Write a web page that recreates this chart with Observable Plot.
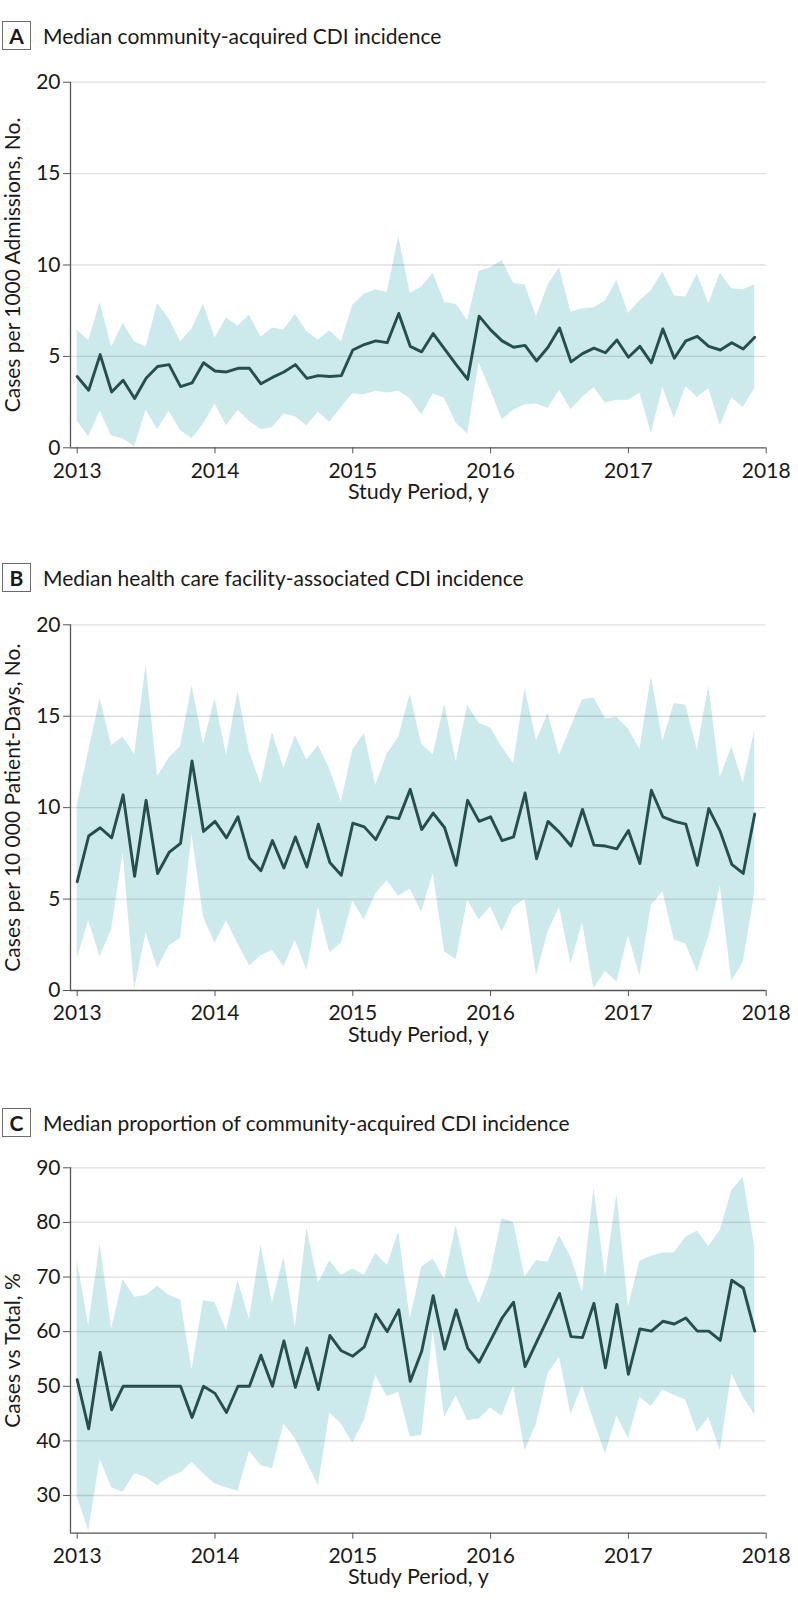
<!DOCTYPE html>
<html>
<head>
<meta charset="utf-8">
<script src="https://cdn.jsdelivr.net/npm/d3@7"></script>
<script src="https://cdn.jsdelivr.net/npm/@observablehq/plot@0.6"></script>
<style>
  html, body { margin: 0; padding: 0; background: #fff; }
  body { width: 798px; height: 1617px; position: relative; font-family: Lato, "Open Sans", sans-serif; color: #1a1a1a; }
  .hdr { position: absolute; left: 0; height: 30px; }
  .box { position: absolute; left: 2px; top: 0; width: 27px; height: 27px; border: 1.5px solid #6b6b6b; font-weight: 700; font-size: 21px; display: flex; align-items: center; justify-content: center; }
  .ttl { position: absolute; left: 43px; top: 0; height: 30px; line-height: 30px; font-size: 21px; white-space: nowrap; }
  .panel { position: absolute; left: 0; }
</style>
</head>
<body>
<script>
// ---------- data ----------
const years = [2013, 2014, 2015, 2016, 2017, 2018];
const nMonths = 60;

const panelTitles = [
  "Median community-acquired CDI incidence",
  "Median health care facility-associated CDI incidence",
  "Median proportion of community-acquired CDI incidence"
];
const panelLetters = ["A", "B", "C"];
const yLabels = [
  "Cases per 1000 Admissions, No.",
  "Cases per 10 000 Patient-Days, No.",
  "Cases vs Total, %"
];
const xLabel = "Study Period, y";

const aMedian = [3.9,3.15,5.1,3.05,3.7,2.7,3.8,4.45,4.55,3.35,3.55,4.65,4.2,4.15,4.35,4.35,3.5,3.85,4.15,4.55,
  3.8,3.95,3.9,3.95,5.35,5.65,5.85,5.75,7.35,5.55,5.25,6.25,5.4,4.55,3.75,7.2,6.45,5.85,5.5,5.6,
  4.75,5.5,6.55,4.7,5.15,5.45,5.2,5.9,4.95,5.55,4.65,6.5,4.9,5.85,6.1,5.55,5.35,5.75,5.4,6.05];
const aUpper = [6.45,5.85,7.95,5.5,6.8,5.8,5.5,7.9,7.05,5.8,6.5,7.85,6.0,7.1,6.65,7.25,6.05,6.55,6.45,7.3,
  6.35,5.9,6.4,5.8,7.8,8.4,8.65,8.5,11.55,8.45,8.8,9.55,7.95,7.85,6.95,9.65,9.85,10.25,9.0,8.9,
  7.15,8.9,9.85,7.4,7.6,7.65,8.05,9.15,7.35,8.05,8.6,9.6,8.3,8.25,9.5,7.9,9.55,8.7,8.65,8.9];
const aLower = [1.45,0.6,2.0,0.65,0.5,0.05,2.05,1.0,2.0,0.95,0.5,1.3,2.4,1.2,2.05,1.45,1.0,1.1,1.85,1.7,
  1.2,1.95,1.4,2.2,2.95,2.9,3.1,3.0,3.1,2.7,1.8,2.95,2.7,1.35,0.75,4.65,3.15,1.55,2.05,2.35,
  2.4,2.15,3.15,2.1,2.75,3.3,2.45,2.6,2.6,3.0,0.8,3.3,1.6,3.35,2.75,3.25,1.2,2.75,2.2,3.25];

const bMedian = [5.95,8.45,8.9,8.35,10.7,6.25,10.4,6.4,7.55,8.05,12.55,8.7,9.25,8.35,9.5,7.25,6.55,8.2,6.7,8.4,
  6.75,9.1,7.0,6.3,9.15,8.95,8.25,9.5,9.4,11.0,8.8,9.7,8.9,6.85,10.4,9.25,9.5,8.2,8.4,10.8,
  7.2,9.25,8.65,7.9,9.9,7.95,7.9,7.75,8.75,6.95,10.95,9.5,9.25,9.1,6.85,9.95,8.7,6.9,6.4,9.65];
const bUpper = [10.1,13.1,15.95,13.4,13.85,12.9,17.8,11.7,12.7,13.35,16.65,13.45,15.95,12.85,16.35,13.05,11.3,14.1,12.15,13.95,
  12.6,13.4,12.1,10.3,13.15,14.05,11.2,12.95,13.85,16.2,13.45,12.9,15.65,12.5,15.6,14.6,14.35,13.3,12.4,16.5,
  13.65,15.15,12.85,14.4,15.9,16.0,14.85,14.95,14.3,13.2,17.15,13.65,15.7,15.6,13.15,16.65,11.65,13.3,11.35,14.2];
const bLower = [1.75,3.8,1.85,3.35,7.55,0.05,3.15,1.2,2.45,2.85,8.55,4.0,2.6,3.8,2.55,1.35,1.9,2.2,1.3,2.75,
  1.1,4.55,2.05,2.6,4.9,3.85,5.3,6.0,5.15,5.55,4.3,6.4,2.1,1.7,4.95,3.85,4.6,3.2,4.55,5.0,
  0.8,3.2,4.55,1.45,3.7,0.1,1.05,0.45,3.0,0.8,4.65,5.4,2.75,2.55,1.0,2.95,5.7,0.5,1.55,5.3];

const cMedian = [51.2,42.2,56.2,45.7,50,50,50,50,50,50,44.3,50,48.7,45.2,50,50,55.7,50,58.3,49.8,
  57.0,49.4,59.3,56.5,55.5,57.2,63.2,60.0,64.0,50.9,56.4,66.6,56.8,64.0,57.0,54.4,58.4,62.5,65.4,53.6,
  58.1,62.5,67.0,59.1,58.9,65.2,53.4,65.0,52.2,60.5,60.1,61.9,61.4,62.5,60.1,60.1,58.4,69.4,68.0,60.1];
const cUpper = [73.0,61.1,76.1,60.5,69.5,66.3,66.6,68.3,66.6,65.8,53.0,65.7,65.3,60.1,69.4,62.2,75.8,65.2,73.6,60.8,
  79.0,68.8,73.0,70.3,71.5,70.3,74.3,72.1,78.2,62.3,71.8,73.3,69.5,79.4,70.0,65.1,70.7,80.7,80.0,70.0,
  73.0,72.7,77.6,73.6,67.2,86.2,70.0,85.2,64.5,72.9,73.8,74.4,74.4,77.3,78.4,75.6,78.5,85.8,88.3,75.5];
const cLower = [29.8,23.5,36.7,31.4,30.6,34.0,33.3,31.8,33.3,34.1,36.1,34.0,32.1,31.4,30.8,38.1,35.5,34.9,43.1,40.4,
  36.1,31.8,45.1,43.1,39.6,43.7,52.0,48.1,48.9,40.7,41.0,60.2,44.3,48.3,43.7,44.0,46.0,44.5,50.0,38.2,
  43.1,52.3,55.3,44.9,50.1,43.7,37.6,44.6,40.4,48.0,46.3,49.3,48.3,47.5,41.6,44.3,38.2,52.3,48.0,44.8];

const aYTicks = [0, 5, 10, 15, 20];
const bYTicks = [0, 5, 10, 15, 20];
const cYTicks = [30, 40, 50, 60, 70, 80, 90];

// ---------- drawing ----------
const xStart = 2012.9514; // y-axis line sits a little left of Jan 2013
const monthX = d3.range(nMonths).map(i => 2013 + i / 12);

function rowsOf(med, lo, hi) {
  return monthX.map((t, i) => ({t, med: med[i], lo: lo[i], hi: hi[i]}));
}

const panels = [
  {rows: rowsOf(aMedian, aLower, aUpper), ticks: aYTicks, domain: [0, 20], grid: [5, 10, 15, 20],
   hdrTop: 21, svgTop: 62, height: 480, marginTop: 19.7, marginBottom: 94.7},
  {rows: rowsOf(bMedian, bLower, bUpper), ticks: bYTicks, domain: [0, 20], grid: [5, 10, 15, 20],
   hdrTop: 563, svgTop: 604, height: 483, marginTop: 20.3, marginBottom: 97},
  {rows: rowsOf(cMedian, cLower, cUpper), ticks: cYTicks, domain: [23.1, 90], grid: [30, 40, 50, 60, 70, 80, 90],
   hdrTop: 1108, svgTop: 1149, height: 468, marginTop: 18.3, marginBottom: 84.3}
];

panels.forEach((p, k) => {
  const hdr = document.createElement("div");
  hdr.className = "hdr";
  hdr.style.top = p.hdrTop + "px";
  hdr.innerHTML = `<div class="box">${panelLetters[k]}</div><div class="ttl">${panelTitles[k]}</div>`;
  document.body.appendChild(hdr);

  const chart = Plot.plot({
    width: 798,
    height: p.height,
    marginLeft: 70,
    marginRight: 32.3,
    marginTop: p.marginTop,
    marginBottom: p.marginBottom,
    x: {domain: [xStart, 2018]},
    y: {domain: p.domain},
    style: {fontFamily: "Lato, 'Open Sans', sans-serif", fontSize: "21px", color: "#1a1a1a", background: "transparent", overflow: "visible"},
    marks: [
      Plot.areaY(p.rows, {x: "t", y1: "lo", y2: "hi", fill: "#cce9eb"}),
      Plot.ruleY(p.grid, {stroke: "#000", strokeOpacity: 0.13, strokeWidth: 1.3}),
      Plot.lineY(p.rows, {x: "t", y: "med", stroke: "#244f4d", strokeWidth: 2.9}),
      Plot.ruleX([xStart], {stroke: "#555", strokeWidth: 1.3}),
      Plot.ruleY([p.domain[0]], {stroke: "#555", strokeWidth: 1.3}),
      Plot.axisY({ticks: p.ticks, tickSize: 7, tickPadding: 3, stroke: "#555", label: null}),
      Plot.axisX({ticks: years, tickFormat: "d", tickSize: 6, tickPadding: 9, stroke: "#555", label: null}),
      Plot.text([yLabels[k]], {text: d => d, frameAnchor: "left", textAnchor: "middle", rotate: -90, dx: -57.5, fontSize: 21, fill: "#1a1a1a"}),
      Plot.text([xLabel], {text: d => d, frameAnchor: "bottom", dy: 51, fontSize: 21.5, fill: "#1a1a1a"})
    ]
  });
  const wrap = document.createElement("div");
  wrap.className = "panel";
  wrap.style.top = p.svgTop + "px";
  wrap.appendChild(chart);
  document.body.appendChild(wrap);
});
</script>
</body>
</html>
